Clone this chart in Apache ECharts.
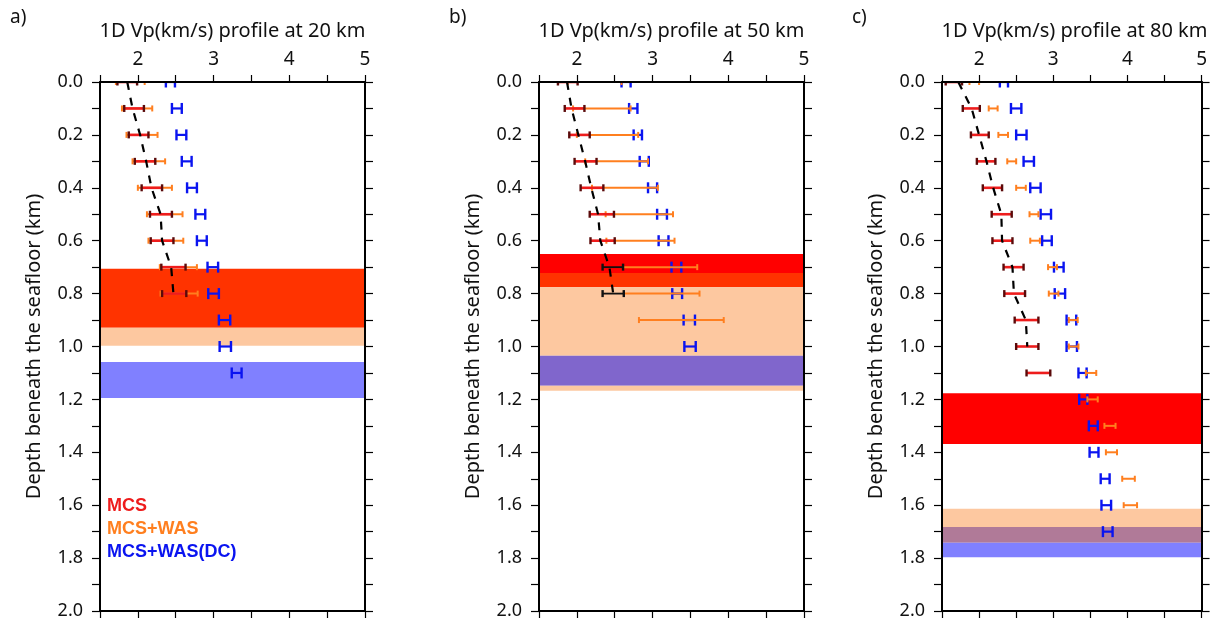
<!DOCTYPE html>
<html>
<head>
<meta charset="utf-8">
<script src="https://cdn.jsdelivr.net/npm/echarts@6/dist/echarts.min.js"></script>
<style>
html,body{margin:0;padding:0;background:#fff;}
#chart{width:1210px;height:622px;}
</style>
</head>
<body>
<div id="chart"></div>
<script>
// ---------------- DATA ----------------
const panelTitles = ['1D Vp(km/s) profile at 20 km', '1D Vp(km/s) profile at 50 km', '1D Vp(km/s) profile at 80 km'];
const panelLetters = ['a)', 'b)', 'c)'];
const legendLabels = ['MCS', 'MCS+WAS', 'MCS+WAS(DC)'];
const yAxisName = 'Depth beneath the seafloor (km)';

// Panel a (20 km)
const depthA   = [0.0, 0.1, 0.2, 0.3, 0.4, 0.5, 0.6, 0.7, 0.8, 0.9, 1.0, 1.1];
const mcsLoA   = [1.73, 1.82, 1.88, 1.96, 2.05, 2.16, 2.17, 2.31, 2.32, null, null, null];
const mcsHiA   = [1.99, 2.08, 2.14, 2.23, 2.32, 2.45, 2.47, 2.63, 2.64, null, null, null];
const wasLoA   = [1.71, 1.79, 1.85, 1.93, 2.00, 2.12, 2.14, 2.29, 2.30, null, null, null];
const wasHiA   = [2.09, 2.19, 2.26, 2.36, 2.45, 2.59, 2.60, 2.78, 2.79, null, null, null];
const dcLoA    = [2.37, 2.45, 2.51, 2.58, 2.65, 2.76, 2.78, 2.92, 2.93, 3.07, 3.08, 3.24];
const dcHiA    = [2.49, 2.58, 2.64, 2.71, 2.78, 2.89, 2.91, 3.06, 3.07, 3.22, 3.23, 3.37];
const rawLoA   = [null, null, null, null, null, null, null, null, null, null, null, null];
const rawHiA   = [null, null, null, null, null, null, null, null, null, null, null, null];
const trendA   = [1.86, 1.93, 2.03, 2.11, 2.18, 2.30, 2.32, 2.44, 2.47];
const bandsA   = [[0.706, 0.929], [0.929, 0.997], [1.059, 1.195]];

// Panel b (50 km)
const depthB   = [0.0, 0.1, 0.2, 0.3, 0.4, 0.5, 0.6, 0.7, 0.8, 0.9, 1.0];
const mcsLoB   = [1.75, 1.84, 1.90, 1.97, 2.05, 2.17, 2.18, null, null, null, null];
const mcsHiB   = [2.01, 2.10, 2.17, 2.26, 2.35, 2.49, 2.50, null, null, null, null];
const wasLoB   = [1.88, 1.95, 2.00, 2.11, 2.20, 2.38, 2.39, 2.61, 2.62, 2.82, null];
const wasHiB   = [2.59, 2.71, 2.81, 2.94, 3.07, 3.27, 3.29, 3.59, 3.62, 3.94, null];
const dcLoB    = [2.59, 2.69, 2.75, 2.83, 2.94, 3.06, 3.08, 3.25, 3.26, 3.41, 3.42];
const dcHiB    = [2.71, 2.80, 2.86, 2.95, 3.06, 3.19, 3.21, 3.38, 3.39, 3.56, 3.57];
const rawLoB   = [null, null, null, null, null, null, null, 2.34, 2.34, null, null];
const rawHiB   = [null, null, null, null, null, null, null, 2.61, 2.62, null, null];
const trendB   = [1.87, 1.93, 2.02, 2.11, 2.19, 2.28, 2.31, 2.43, 2.48];
const bandsB   = [[0.650, 0.722], [0.722, 0.776], [0.776, 1.035], [1.035, 1.148], [1.148, 1.167]];

// Panel c (80 km)
const depthC   = [0.0, 0.1, 0.2, 0.3, 0.4, 0.5, 0.6, 0.7, 0.8, 0.9, 1.0, 1.1, 1.2, 1.3, 1.4, 1.5, 1.6, 1.7];
const mcsLoC   = [1.55, 1.78, 1.89, 1.97, 2.05, 2.17, 2.18, 2.33, 2.34, 2.48, 2.50, 2.64, null, null, null, null, null, null];
const mcsHiC   = [1.77, 2.01, 2.13, 2.22, 2.31, 2.44, 2.45, 2.60, 2.62, 2.80, 2.80, 2.96, null, null, null, null, null, null];
const wasLoC   = [1.87, 2.13, 2.26, 2.38, 2.50, 2.68, 2.69, 2.93, 2.94, 3.21, 3.21, 3.44, 3.46, 3.69, 3.71, 3.93, 3.95, null];
const wasHiC   = [2.00, 2.25, 2.39, 2.50, 2.63, 2.80, 2.82, 3.05, 3.07, 3.33, 3.34, 3.58, 3.60, 3.84, 3.86, 4.10, 4.13, null];
const dcLoC    = [2.28, 2.43, 2.50, 2.60, 2.69, 2.83, 2.85, 3.01, 3.02, 3.18, 3.18, 3.34, 3.35, 3.48, 3.49, 3.64, 3.65, 3.67];
const dcHiC    = [2.39, 2.57, 2.64, 2.74, 2.83, 2.97, 2.98, 3.14, 3.16, 3.31, 3.32, 3.45, 3.46, 3.60, 3.61, 3.76, 3.78, 3.80];
const rawLoC   = [null, null, null, null, null, null, null, null, null, null, null, null, null, null, null, null, null, null];
const rawHiC   = [null, null, null, null, null, null, null, null, null, null, null, null, null, null, null, null, null, null];
const trendC   = [1.72, 1.90, 2.00, 2.10, 2.19, 2.30, 2.31, 2.45, 2.47, 2.63, 2.65];
const bandsC   = [[1.177, 1.369], [1.613, 1.682], [1.682, 1.742], [1.742, 1.797]];

// ---------------- STYLE ----------------
const bandColorsA = ['#ff3300', '#fdc8a0', '#8080ff'];
const bandColorsB = ['#ff0000', '#ff3300', '#fdc8a0', '#8066cc', '#fdc8a0'];
const bandColorsC = ['#ff0000', '#fdc8a0', '#b07a98', '#8080ff'];

const RED = '#ee1c1c', ORANGE = '#ff7f1f', BLUE = '#0a14f0';
const FONT = "'Noto Sans', 'DejaVu Sans', sans-serif";

const panels = [
  {depth: depthA, mcsLo: mcsLoA, mcsHi: mcsHiA, wasLo: wasLoA, wasHi: wasHiA, dcLo: dcLoA, dcHi: dcHiA, rawLo: rawLoA, rawHi: rawHiA, trend: trendA, bands: bandsA, bandColors: bandColorsA, left: 100},
  {depth: depthB, mcsLo: mcsLoB, mcsHi: mcsHiB, wasLo: wasLoB, wasHi: wasHiB, dcLo: dcLoB, dcHi: dcHiB, rawLo: rawLoB, rawHi: rawHiB, trend: trendB, bands: bandsB, bandColors: bandColorsB, left: 539},
  {depth: depthC, mcsLo: mcsLoC, mcsHi: mcsHiC, wasLo: wasLoC, wasHi: wasHiC, dcLo: dcLoC, dcHi: dcHiC, rawLo: rawLoC, rawHi: rawHiC, trend: trendC, bands: bandsC, bandColors: bandColorsC, left: 942}
];
const GRID_TOP = 82, GRID_H = 529, GRID_W = 265;

function pairs(lo, hi, depth) {
  const out = [];
  depth.forEach((d, i) => { if (lo[i] != null && hi[i] != null) out.push([lo[i], hi[i], d]); });
  return out;
}

function barRender(capHalf, lw, color, capColor, capW) {
  return function (params, api) {
    const p1 = api.coord([api.value(0), api.value(2)]);
    const p2 = api.coord([api.value(1), api.value(2)]);
    const y = p1[1];
    return {
      type: 'group',
      children: [
        {type: 'line', shape: {x1: p1[0], y1: y, x2: p2[0], y2: y}, style: {stroke: color, lineWidth: lw}},
        {type: 'line', shape: {x1: p1[0], y1: y - capHalf, x2: p1[0], y2: y + capHalf}, style: {stroke: capColor, lineWidth: capW}},
        {type: 'line', shape: {x1: p2[0], y1: y - capHalf, x2: p2[0], y2: y + capHalf}, style: {stroke: capColor, lineWidth: capW}}
      ]
    };
  };
}

const grids = [], xAxes = [], yAxes = [], series = [], graphics = [];
const axisLineStyle = {color: '#000', width: 2};

panels.forEach((p, i) => {
  grids.push({left: p.left, top: GRID_TOP, width: GRID_W, height: GRID_H});
  const xBase = {
    gridIndex: i, type: 'value', min: 1.5, max: 5, interval: 0.5, z: 10,
    axisLine: {show: true, onZero: false, lineStyle: axisLineStyle},
    axisTick: {show: true, inside: false, length: 7, lineStyle: {color: '#000', width: 1.2}},
    splitLine: {show: false}
  };
  xAxes.push(Object.assign({}, xBase, {
    position: 'top',
    axisLabel: {
      show: true, margin: 13, color: '#111', fontSize: 19, fontFamily: FONT,
      showMinLabel: true, showMaxLabel: true,
      formatter: v => (Math.abs(v - Math.round(v)) < 1e-6 ? String(Math.round(v)) : '')
    }
  }));
  xAxes.push(Object.assign({}, xBase, {position: 'bottom', axisLabel: {show: false}}));
  const yBase = {
    gridIndex: i, type: 'value', min: 0, max: 2, interval: 0.1, inverse: true, z: 10,
    axisLine: {show: true, onZero: false, lineStyle: axisLineStyle},
    axisTick: {show: true, inside: false, length: 8, lineStyle: {color: '#000', width: 1.2}},
    splitLine: {show: false}
  };
  yAxes.push(Object.assign({}, yBase, {
    position: 'left',
    name: yAxisName, nameLocation: 'middle', nameGap: 56, nameRotate: 90,
    nameTextStyle: {fontSize: 20, color: '#111', fontFamily: FONT},
    axisLabel: {
      show: true, margin: 17, color: '#111', fontSize: 18, fontFamily: FONT,
      showMinLabel: true, showMaxLabel: true,
      formatter: v => { const t = Math.round(v * 10); return t % 2 === 0 ? (t / 10).toFixed(1) : ''; }
    }
  }));
  yAxes.push(Object.assign({}, yBase, {position: 'right', axisLabel: {show: false}}));

  const xi = 2 * i, yi = 2 * i;
  const colors = p.bandColors;
  // bands
  series.push({
    type: 'custom', xAxisIndex: xi, yAxisIndex: yi, z: 1, silent: true,
    data: p.bands.map((b, k) => [b[0], b[1], k]),
    encode: {y: [0, 1]},
    renderItem: function (params, api) {
      const cs = params.coordSys;
      const y1 = api.coord([1.5, api.value(0)])[1];
      const y2 = api.coord([1.5, api.value(1)])[1];
      return {type: 'rect', shape: {x: cs.x, y: y1, width: cs.width, height: y2 - y1}, style: {fill: colors[api.value(2)]}};
    }
  });
  // DC (blue)
  series.push({
    type: 'custom', name: 'MCS+WAS(DC)', xAxisIndex: xi, yAxisIndex: yi, z: 2, clip: true, silent: true,
    data: pairs(p.dcLo, p.dcHi, p.depth), encode: {x: [0, 1], y: 2},
    renderItem: barRender(5.5, 2.2, BLUE, BLUE, 2.4)
  });
  // MCS+WAS (orange)
  series.push({
    type: 'custom', name: 'MCS+WAS', xAxisIndex: xi, yAxisIndex: yi, z: 3, clip: true, silent: true,
    data: pairs(p.wasLo, p.wasHi, p.depth), encode: {x: [0, 1], y: 2},
    renderItem: barRender(3, 2, ORANGE, ORANGE, 2)
  });
  // raw (black)
  series.push({
    type: 'custom', xAxisIndex: xi, yAxisIndex: yi, z: 4, clip: true, silent: true,
    data: pairs(p.rawLo, p.rawHi, p.depth), encode: {x: [0, 1], y: 2},
    renderItem: barRender(3.5, 1.8, '#111', '#111', 2.4)
  });
  // MCS (red)
  series.push({
    type: 'custom', name: 'MCS', xAxisIndex: xi, yAxisIndex: yi, z: 5, clip: true, silent: true,
    data: pairs(p.mcsLo, p.mcsHi, p.depth), encode: {x: [0, 1], y: 2},
    renderItem: barRender(3.5, 2.6, RED, '#5a0a0a', 2.4)
  });
  // trend dashed
  series.push({
    type: 'line', xAxisIndex: xi, yAxisIndex: yi, z: 6, clip: true, silent: true,
    data: p.trend.map((v, k) => [v, p.depth[k]]),
    symbol: 'none', smooth: false,
    lineStyle: {color: '#000', width: 2.2, type: [8, 8]}
  });

  graphics.push({
    type: 'text', x: p.left + GRID_W / 2, y: 31,
    style: {text: panelTitles[i], font: "20px " + FONT, fill: '#111', align: 'center', verticalAlign: 'middle'}
  });
  graphics.push({
    type: 'text', x: p.left - 90, y: 18,
    style: {text: panelLetters[i], font: "19px " + FONT, fill: '#111', align: 'left', verticalAlign: 'middle'}
  });
});

// legend texts in panel a
const legendColors = [RED, ORANGE, BLUE];
legendLabels.forEach((t, k) => {
  graphics.push({
    type: 'text', x: 107, y: 506 + k * 23,
    style: {text: t, font: "bold 18px 'Liberation Sans', Arial, sans-serif", fill: legendColors[k], align: 'left', verticalAlign: 'middle'}
  });
});

const chart = echarts.init(document.getElementById('chart'), null, {renderer: 'canvas'});
chart.setOption({
  animation: false,
  backgroundColor: '#fff',
  grid: grids,
  xAxis: xAxes,
  yAxis: yAxes,
  series: series,
  graphic: graphics
});
</script>
</body>
</html>
